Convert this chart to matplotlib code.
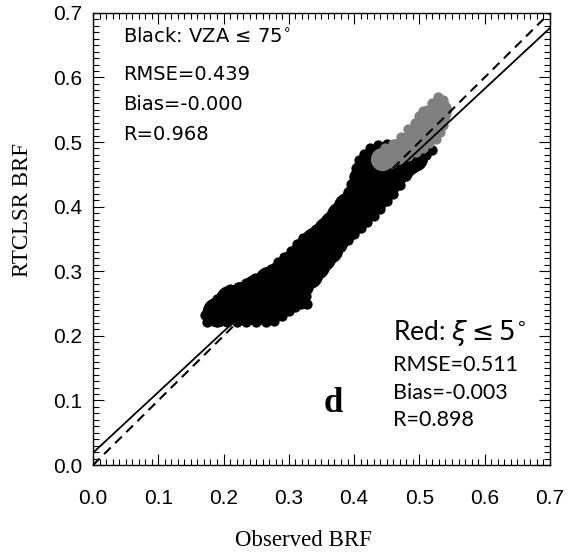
"""Scatter of RTCLSR vs observed BRF, panel d."""
import matplotlib
matplotlib.use('Agg')
import matplotlib.pyplot as plt
from matplotlib.ticker import MultipleLocator, FormatStrFormatter

plt.rcParams['font.family'] = 'Liberation Sans'

# ── data ──────────────────────────────────────────────────────────
# dense interior of the black cloud
black_core_obs = [0.190, 0.205, 0.210, 0.220, 0.230, 0.235, 0.250, 0.250, 0.265,
                  0.270, 0.280, 0.290, 0.295, 0.305, 0.305, 0.315, 0.318, 0.330,
                  0.330, 0.340, 0.340, 0.350, 0.350, 0.360, 0.360, 0.370, 0.370,
                  0.380, 0.380, 0.390, 0.390, 0.400, 0.405, 0.410, 0.415, 0.420,
                  0.422, 0.430, 0.432, 0.440, 0.440, 0.450, 0.450, 0.460, 0.470,
                  0.480, 0.490]
black_core_rtc = [0.237, 0.240, 0.256, 0.240, 0.262, 0.240, 0.240, 0.272, 0.242,
                  0.285, 0.250, 0.295, 0.258, 0.270, 0.310, 0.280, 0.322, 0.295,
                  0.335, 0.310, 0.345, 0.322, 0.352, 0.335, 0.362, 0.350, 0.372,
                  0.362, 0.385, 0.375, 0.400, 0.385, 0.415, 0.395, 0.445, 0.405,
                  0.460, 0.415, 0.468, 0.430, 0.475, 0.440, 0.478, 0.452, 0.462,
                  0.470, 0.477]
# outline of the black cloud (upper-left edge, then lower-right edge)
black_edge_obs = [0.172, 0.178, 0.190, 0.200, 0.210, 0.222, 0.235, 0.248, 0.260,
                  0.272, 0.283, 0.293, 0.303, 0.313, 0.322, 0.332, 0.342, 0.352,
                  0.362, 0.372, 0.382, 0.390, 0.396, 0.400, 0.403, 0.407, 0.415,
                  0.425, 0.437, 0.450, 0.460,
                  0.175, 0.190, 0.205, 0.220, 0.235, 0.250, 0.265, 0.278, 0.290,
                  0.300, 0.310, 0.318, 0.328, 0.326, 0.330, 0.340, 0.350, 0.360,
                  0.370, 0.380, 0.390, 0.400, 0.410, 0.420, 0.430, 0.440, 0.450,
                  0.460, 0.470, 0.480, 0.490, 0.500, 0.510, 0.520]
black_edge_rtc = [0.232, 0.244, 0.257, 0.265, 0.272, 0.276, 0.282, 0.290, 0.295,
                  0.304, 0.314, 0.322, 0.331, 0.342, 0.352, 0.358, 0.366, 0.375,
                  0.384, 0.397, 0.410, 0.423, 0.435, 0.447, 0.460, 0.472, 0.482,
                  0.490, 0.495, 0.497, 0.496,
                  0.222, 0.221, 0.221, 0.221, 0.221, 0.221, 0.221, 0.223, 0.230,
                  0.238, 0.245, 0.250, 0.250, 0.262, 0.280, 0.290, 0.302, 0.315,
                  0.327, 0.337, 0.348, 0.358, 0.367, 0.376, 0.386, 0.397, 0.408,
                  0.420, 0.434, 0.447, 0.460, 0.470, 0.480, 0.488]

# grey cloud (xi <= 5 deg subset)
grey_core_obs = [0.443, 0.455, 0.468, 0.480, 0.490, 0.500, 0.510, 0.520, 0.528, 0.532]
grey_core_rtc = [0.474, 0.480, 0.487, 0.495, 0.503, 0.512, 0.520, 0.530, 0.540, 0.550]
grey_edge_obs = [0.438, 0.440, 0.448, 0.460, 0.472, 0.483, 0.493, 0.500, 0.505, 0.512,
                 0.520, 0.528, 0.536, 0.540, 0.540, 0.537, 0.532, 0.525, 0.515, 0.505,
                 0.495, 0.482, 0.470, 0.458, 0.445]
grey_edge_rtc = [0.466, 0.478, 0.490, 0.497, 0.508, 0.520, 0.530, 0.540, 0.548, 0.550,
                 0.560, 0.570, 0.565, 0.553, 0.540, 0.527, 0.515, 0.505, 0.498, 0.490,
                 0.485, 0.478, 0.474, 0.468, 0.464]

fit_slope = 0.939
fit_intercept = 0.019
axis_span = [0.0, 0.7]

black_stats = ['RMSE=0.439', 'Bias=-0.000', 'R=0.968']
red_stats = ['RMSE=0.511', 'Bias=-0.003', 'R=0.898']

# ── figure ────────────────────────────────────────────────────────
fig = plt.figure(figsize=(5.74, 5.57), dpi=100)
ax = fig.add_axes([0.162, 0.165, 0.796, 0.812])

ax.scatter(black_core_obs, black_core_rtc, s=460, c='black', lw=0, zorder=2)
ax.scatter(black_edge_obs, black_edge_rtc, s=55, c='black', lw=0, zorder=2)
ax.scatter(grey_core_obs, grey_core_rtc, s=280, c='#808080', lw=0, zorder=3)
ax.scatter(grey_edge_obs, grey_edge_rtc, s=55, c='#808080', lw=0, zorder=3)

ax.plot(axis_span, axis_span, color='black', lw=1.5, ls=(0, (4.5, 3)), zorder=4)
ax.plot(axis_span, [fit_intercept + fit_slope * v for v in axis_span],
        color='black', lw=1.3, zorder=4)

ax.set_xlim(axis_span)
ax.set_ylim(axis_span)

for a in (ax.xaxis, ax.yaxis):
    a.set_major_locator(MultipleLocator(0.1))
    a.set_minor_locator(MultipleLocator(0.01))
    a.set_major_formatter(FormatStrFormatter('%.1f'))
ax.tick_params(which='both', direction='in', top=True, right=True, width=0.8,
               labelsize=15)
ax.tick_params(which='major', length=8)
ax.tick_params(which='minor', length=4)
ax.tick_params(axis='y', pad=8)
ax.tick_params(axis='x', pad=17)
for sp in ax.spines.values():
    sp.set_linewidth(1.0)

# axis titles
fig.text(23 / 574, 1 - 210 / 557, 'RTCLSR BRF', rotation=90, ha='center',
         va='center', fontsize=16.5, family='Liberation Serif')
fig.text(303 / 574, 1 - 541 / 557, 'Observed BRF', ha='center', va='center',
         fontsize=16.5, family='Liberation Serif')

# upper-left annotation
ax.text(0.066, 0.948, 'Black: VZA ≤ 75$^{\\circ}$', transform=ax.transAxes,
        ha='left', va='center', fontsize=14, family='DejaVu Sans')
for i, s in enumerate(black_stats):
    ax.text(0.066, 0.864 - i * 0.066, s, transform=ax.transAxes,
            ha='left', va='center', fontsize=14, family='DejaVu Sans')

# lower-right annotation
ax.text(0.656, 0.292, 'Red: $\\xi \\leq 5^{\\circ}$', transform=ax.transAxes,
        ha='left', va='center', fontsize=19, family='Lato')
for i, s in enumerate(red_stats):
    ax.text(0.656, 0.221 - i * 0.061, s, transform=ax.transAxes,
            ha='left', va='center', fontsize=15.5, family='Lato')

ax.text(0.525, 0.137, 'd', transform=ax.transAxes, ha='center', va='center',
        fontsize=25, fontweight='bold', family='Liberation Serif')

plt.savefig('out.png', dpi=100)
plt.close()
